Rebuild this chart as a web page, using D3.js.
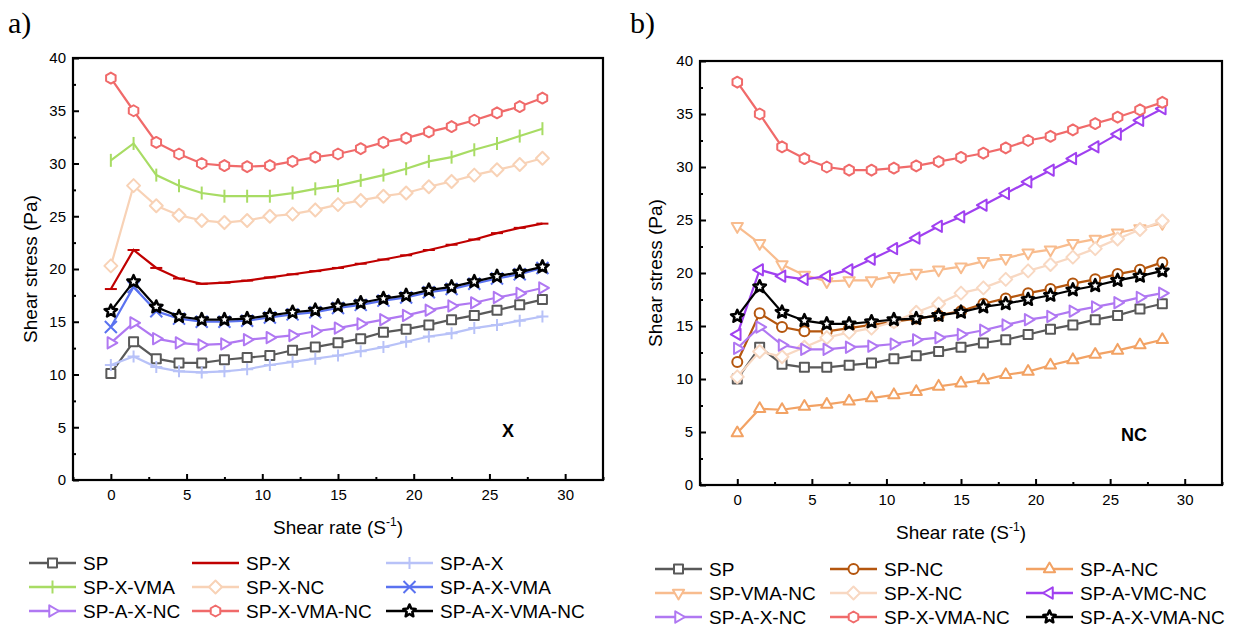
<!DOCTYPE html>
<html>
<head>
<meta charset="utf-8">
<script src="https://cdn.jsdelivr.net/npm/d3@7"></script>
<style>
	body { margin: 0; background: #fff; }
	svg text { font-family: 'Liberation Sans', Arial, sans-serif; }
</style>
</head>
<body>
<svg id="chart" width="1234" height="631"></svg>
<script>
// shear rate (x values) shared by both panels
const shearRate = [0, 1.5, 3, 4.5, 6, 7.5, 9, 10.5, 12, 13.5, 15, 16.5, 18, 19.5, 21, 22.5, 24, 25.5, 27, 28.5];

const xTicks = [0, 5, 10, 15, 20, 25, 30];
const yTicks = [0, 5, 10, 15, 20, 25, 30, 35, 40];

// panel a) X series
const xSP = [10.1, 13.1, 11.5, 11.1, 11.1, 11.4, 11.6, 11.8, 12.3, 12.6, 13.0, 13.4, 14.0, 14.3, 14.7, 15.2, 15.6, 16.1, 16.6, 17.1];
const xSPX = [18.1, 21.8, 20.1, 19.1, 18.6, 18.7, 18.9, 19.2, 19.5, 19.8, 20.1, 20.5, 20.9, 21.3, 21.8, 22.3, 22.8, 23.4, 23.9, 24.3];
const xSPAX = [10.9, 11.7, 10.7, 10.3, 10.2, 10.3, 10.5, 10.9, 11.2, 11.5, 11.8, 12.2, 12.6, 13.1, 13.6, 13.9, 14.4, 14.7, 15.1, 15.5];
const xSPXVMA = [30.3, 31.9, 28.9, 27.9, 27.2, 26.9, 26.9, 26.9, 27.2, 27.6, 27.9, 28.4, 28.9, 29.5, 30.2, 30.6, 31.3, 31.9, 32.6, 33.3];
const xSPXNC = [20.3, 27.9, 26.0, 25.1, 24.6, 24.4, 24.6, 25.0, 25.2, 25.6, 26.1, 26.5, 26.9, 27.2, 27.8, 28.3, 28.9, 29.4, 29.9, 30.5];
const xSPAXVMA = [14.5, 18.3, 16.0, 15.3, 15.0, 15.0, 15.1, 15.4, 15.7, 15.9, 16.3, 16.6, 17.0, 17.3, 17.8, 18.1, 18.6, 19.1, 19.5, 20.1];
const xSPAXNC = [13.0, 14.9, 13.4, 13.0, 12.8, 12.9, 13.3, 13.5, 13.7, 14.1, 14.4, 14.8, 15.2, 15.6, 16.1, 16.5, 16.8, 17.3, 17.7, 18.2];
const xSPXVMANC = [38.1, 35.0, 32.0, 30.9, 30.0, 29.8, 29.7, 29.8, 30.2, 30.6, 30.9, 31.4, 32.0, 32.4, 33.0, 33.5, 34.1, 34.8, 35.4, 36.2];
const xSPAXVMANC = [16.0, 18.8, 16.4, 15.5, 15.2, 15.2, 15.3, 15.6, 15.9, 16.1, 16.5, 16.8, 17.2, 17.5, 18.0, 18.3, 18.8, 19.3, 19.7, 20.2];

// panel b) NC series
const ncSP = [10.0, 13.0, 11.4, 11.1, 11.1, 11.3, 11.5, 11.9, 12.2, 12.6, 13.0, 13.4, 13.7, 14.2, 14.7, 15.1, 15.6, 16.0, 16.6, 17.1];
const ncSPNC = [11.6, 16.2, 14.9, 14.5, 14.5, 14.8, 15.1, 15.4, 15.7, 16.0, 16.4, 17.1, 17.6, 18.1, 18.5, 19.0, 19.4, 19.9, 20.3, 21.0];
const ncSPANC = [4.9, 7.2, 7.1, 7.4, 7.6, 7.9, 8.2, 8.5, 8.8, 9.3, 9.6, 9.9, 10.4, 10.7, 11.3, 11.8, 12.3, 12.7, 13.2, 13.7];
const ncSPVMANC = [24.4, 22.8, 20.8, 19.8, 19.2, 19.3, 19.3, 19.7, 20.0, 20.3, 20.6, 21.1, 21.4, 21.9, 22.2, 22.8, 23.2, 23.8, 24.2, 24.7];
const ncSPXNC = [10.2, 12.6, 12.1, 13.0, 13.9, 14.4, 14.8, 15.4, 16.3, 17.1, 18.1, 18.6, 19.4, 20.2, 20.8, 21.5, 22.3, 23.2, 24.1, 24.9];
const ncSPAVMCNC = [14.2, 20.3, 19.7, 19.4, 19.7, 20.3, 21.3, 22.3, 23.3, 24.4, 25.3, 26.4, 27.5, 28.6, 29.7, 30.8, 31.9, 33.1, 34.4, 35.5];
const ncSPAXNC = [12.9, 14.9, 13.2, 12.8, 12.8, 13.0, 13.1, 13.3, 13.7, 13.9, 14.2, 14.6, 15.1, 15.6, 15.9, 16.4, 16.8, 17.2, 17.7, 18.1];
const ncSPXVMANC = [38.0, 35.0, 31.9, 30.8, 30.0, 29.7, 29.7, 29.9, 30.1, 30.5, 30.9, 31.3, 31.8, 32.5, 32.9, 33.5, 34.1, 34.7, 35.4, 36.1];
const ncSPAXVMANC = [15.9, 18.7, 16.3, 15.5, 15.2, 15.2, 15.4, 15.6, 15.7, 16.0, 16.3, 16.8, 17.1, 17.5, 17.9, 18.4, 18.8, 19.3, 19.7, 20.2];

const seriesX = [
	{ name: 'SP', color: '#595959', marker: 'square', values: xSP },
	{ name: 'SP-X', color: '#c00000', marker: 'hbar', values: xSPX },
	{ name: 'SP-A-X', color: '#b8c2f8', marker: 'plus', values: xSPAX },
	{ name: 'SP-X-VMA', color: '#a8dc64', marker: 'vbar', values: xSPXVMA },
	{ name: 'SP-X-NC', color: '#f8d2b6', marker: 'diamond', values: xSPXNC },
	{ name: 'SP-A-X-VMA', color: '#5a72f0', marker: 'cross', values: xSPAXVMA },
	{ name: 'SP-A-X-NC', color: '#b078f2', marker: 'triRight', values: xSPAXNC },
	{ name: 'SP-X-VMA-NC', color: '#f06a6a', marker: 'hex', values: xSPXVMANC },
	{ name: 'SP-A-X-VMA-NC', color: '#000000', marker: 'star', values: xSPAXVMANC }
];

const seriesNC = [
	{ name: 'SP', color: '#595959', marker: 'square', values: ncSP },
	{ name: 'SP-NC', color: '#b4560e', marker: 'circle', values: ncSPNC },
	{ name: 'SP-A-NC', color: '#f2a264', marker: 'triUp', values: ncSPANC },
	{ name: 'SP-VMA-NC', color: '#f8bc8e', marker: 'triDown', values: ncSPVMANC },
	{ name: 'SP-X-NC', color: '#f8d8c2', marker: 'diamond', values: ncSPXNC },
	{ name: 'SP-A-VMC-NC', color: '#a040f0', marker: 'triLeft', values: ncSPAVMCNC },
	{ name: 'SP-A-X-NC', color: '#b078f2', marker: 'triRight', values: ncSPAXNC },
	{ name: 'SP-X-VMA-NC', color: '#f06a6a', marker: 'hex', values: ncSPXVMANC },
	{ name: 'SP-A-X-VMA-NC', color: '#000000', marker: 'star', values: ncSPAXVMANC }
];

let svg = d3.select('#chart');

function markerPath(type) {
	let p = d3.path();
	if (type == 'square') {
		p.rect(-4.5, -4.5, 9, 9);
	} else if (type == 'circle') {
		p.arc(0, 0, 5, 0, 2 * Math.PI);
	} else if (type == 'diamond') {
		p.moveTo(0, -6.5); p.lineTo(6.5, 0); p.lineTo(0, 6.5); p.lineTo(-6.5, 0); p.closePath();
	} else if (type == 'hex') {
		for (let i = 0; i < 6; i++) {
			let a = Math.PI / 6 + i * Math.PI / 3;
			if (i == 0) p.moveTo(5.5 * Math.cos(a), 5.5 * Math.sin(a));
			else p.lineTo(5.5 * Math.cos(a), 5.5 * Math.sin(a));
		}
		p.closePath();
	} else if (type.startsWith('tri')) {
		let rot = { triUp: -90, triDown: 90, triRight: 0, triLeft: 180 }[type] * Math.PI / 180;
		for (let i = 0; i < 3; i++) {
			let a = rot + i * 2 * Math.PI / 3;
			if (i == 0) p.moveTo(6.5 * Math.cos(a), 6.5 * Math.sin(a));
			else p.lineTo(6.5 * Math.cos(a), 6.5 * Math.sin(a));
		}
		p.closePath();
	} else if (type == 'star') {
		for (let i = 0; i < 10; i++) {
			let r = i % 2 == 0 ? 6.5 : 3;
			let a = -Math.PI / 2 + i * Math.PI / 5;
			if (i == 0) p.moveTo(r * Math.cos(a), r * Math.sin(a));
			else p.lineTo(r * Math.cos(a), r * Math.sin(a));
		}
		p.closePath();
	} else if (type == 'plus') {
		p.moveTo(-6, 0); p.lineTo(6, 0); p.moveTo(0, -6); p.lineTo(0, 6);
	} else if (type == 'cross') {
		p.moveTo(-6, -6); p.lineTo(6, 6); p.moveTo(-6, 6); p.lineTo(6, -6);
	} else if (type == 'vbar') {
		p.moveTo(0, -6.5); p.lineTo(0, 6.5);
	} else if (type == 'hbar') {
		p.moveTo(-6, 0); p.lineTo(6, 0);
	}
	return p.toString();
}

function drawMarker(g, s) {
	g.append('path')
		.attr('d', markerPath(s.marker))
		.attr('fill', 'white')
		.attr('stroke', s.color)
		.attr('stroke-linejoin', 'round')
		.attr('stroke-width', s.marker == 'star' ? 2.6 : 2);
}

function drawPanel(cfg) {
	let x = d3.scaleLinear().domain([-2.5, 32.5]).range([cfg.left, cfg.right]);
	let y = d3.scaleLinear().domain([0, 40]).range([cfg.bottom, cfg.top]);

	let g = svg.append('g');

	// minor ticks
	g.append('g')
		.attr('transform', 'translate(0,' + cfg.bottom + ')')
		.call(d3.axisBottom(x).tickValues([-2.5, 2.5, 7.5, 12.5, 17.5, 22.5, 27.5, 32.5]).tickSize(-3).tickFormat(''))
		.call(a => a.select('.domain').remove());
	g.append('g')
		.attr('transform', 'translate(' + cfg.left + ',0)')
		.call(d3.axisLeft(y).tickValues([2.5, 7.5, 12.5, 17.5, 22.5, 27.5, 32.5, 37.5]).tickSize(-3).tickFormat(''))
		.call(a => a.select('.domain').remove());

	let xAxis = g.append('g')
		.attr('transform', 'translate(0,' + cfg.bottom + ')')
		.call(d3.axisBottom(x).tickValues(xTicks).tickSize(-6).tickPadding(9));
	let yAxis = g.append('g')
		.attr('transform', 'translate(' + cfg.left + ',0)')
		.call(d3.axisLeft(y).tickValues(yTicks).tickSize(-6).tickPadding(7));

	[xAxis, yAxis].forEach(a => {
		a.select('.domain').remove();
		a.selectAll('text').style('font-size', '15px').attr('fill', '#000');
	});
	g.selectAll('.tick line').attr('stroke', '#000').attr('stroke-width', 2);

	g.append('rect')
		.attr('x', cfg.left)
		.attr('y', cfg.top)
		.attr('width', cfg.right - cfg.left)
		.attr('height', cfg.bottom - cfg.top)
		.attr('fill', 'none')
		.attr('stroke', '#000')
		.attr('stroke-width', 2.2);

	let line = d3.line()
		.x((d, i) => x(shearRate[i]))
		.y(d => y(d));

	cfg.series.forEach(s => {
		g.append('path')
			.datum(s.values)
			.attr('fill', 'none')
			.attr('stroke', s.color)
			.attr('stroke-width', 2.2)
			.attr('d', line);

		g.selectAll(null)
			.data(s.values)
			.enter()
			.append('g')
			.attr('transform', (d, i) => 'translate(' + x(shearRate[i]) + ',' + y(d) + ')')
			.each(function () { drawMarker(d3.select(this), s); });
	});

	// axis titles
	let cx = (cfg.left + cfg.right) / 2;
	let xt = g.append('text')
		.attr('x', cx)
		.attr('y', cfg.bottom + 54)
		.attr('text-anchor', 'middle')
		.style('font-size', '19px');
	xt.append('tspan').text('Shear rate (S');
	xt.append('tspan').attr('dy', -8).style('font-size', '12px').text('-1');
	xt.append('tspan').attr('dy', 8).text(')');

	g.append('text')
		.attr('transform', 'translate(' + cfg.yLabelX + ',' + (cfg.top + cfg.bottom) / 2 + ') rotate(-90)')
		.attr('text-anchor', 'middle')
		.style('font-size', '19px')
		.text('Shear stress (Pa)');

	// panel letter and tag
	g.append('text')
		.attr('x', cfg.letterX)
		.attr('y', 33)
		.style('font-family', "'Liberation Serif', 'Times New Roman', serif")
		.style('font-size', '30px')
		.text(cfg.letter);

	g.append('text')
		.attr('x', cfg.tagX)
		.attr('y', cfg.tagY)
		.attr('text-anchor', 'middle')
		.style('font-size', '18px')
		.style('font-weight', 'bold')
		.text(cfg.tag);

	// legend, 3 columns
	cfg.series.forEach((s, i) => {
		let col = i % 3;
		let row = Math.floor(i / 3);
		let lx = cfg.legendCols[col];
		let ly = cfg.legendTop + row * 24;
		let lg = g.append('g');
		lg.append('line')
			.attr('x1', lx).attr('x2', lx + 47)
			.attr('y1', ly).attr('y2', ly)
			.attr('stroke', s.color)
			.attr('stroke-width', 2.5);
		let mg = lg.append('g').attr('transform', 'translate(' + (lx + 23.5) + ',' + ly + ')');
		drawMarker(mg, s);
		lg.append('text')
			.attr('x', lx + 54)
			.attr('y', ly + 7)
			.style('font-size', '19px')
			.text(s.name);
	});
}

drawPanel({
	left: 73, right: 603, top: 58, bottom: 480,
	series: seriesX,
	letter: 'a)', letterX: 8,
	tag: 'X', tagX: 508, tagY: 437,
	yLabelX: 37,
	legendCols: [29, 192, 386],
	legendTop: 563
});

drawPanel({
	left: 700, right: 1222, top: 61, bottom: 485,
	series: seriesNC,
	letter: 'b)', letterX: 630,
	tag: 'NC', tagX: 1134, tagY: 441,
	yLabelX: 662,
	legendCols: [655, 830, 1026],
	legendTop: 569
});
</script>
</body>
</html>
